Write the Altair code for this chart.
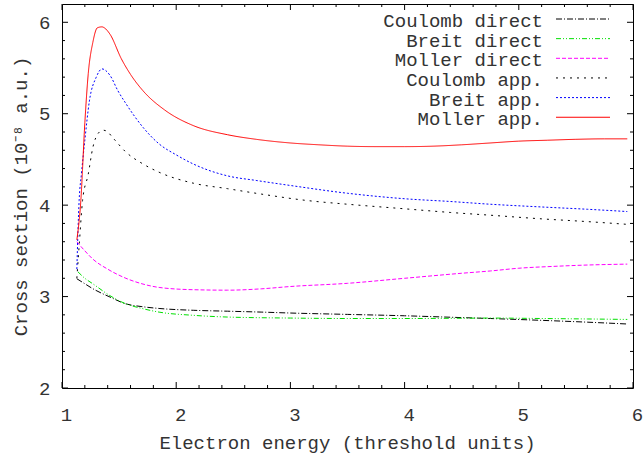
import altair as alt
import pandas as pd

# ---- series (energy in threshold units, cross section in 1e-8 a.u.) ----
series_names = ["Coulomb direct", "Breit direct", "Moller direct",
                "Coulomb app.", "Breit app.", "Moller app."]
series_colors = ["#000000", "#00e000", "#ff00ff", "#000000", "#0000ff", "#ff0000"]
series_dashes = [[6, 2, 1, 2], [5, 2, 1, 2, 1, 2], [4, 2], [2, 5], [2, 2], [1, 0]]

coulomb_direct_x = [1.13, 1.2, 1.27, 1.42, 1.56, 1.7, 1.85, 2.15, 2.45, 2.75, 3.0, 3.5, 4.0, 4.5, 4.75, 5.2, 5.6, 5.95]
coulomb_direct_y = [3.195, 3.14, 3.086, 2.995, 2.92, 2.89, 2.87, 2.85, 2.84, 2.83, 2.82, 2.805, 2.79, 2.77, 2.76, 2.74, 2.72, 2.70]

breit_direct_x = [1.14, 1.2, 1.27, 1.42, 1.56, 1.7, 1.85, 2.15, 2.45, 3.0, 3.5, 4.0, 4.5, 4.75, 5.2, 5.6, 5.95]
breit_direct_y = [3.27, 3.2, 3.14, 3.01, 2.92, 2.87, 2.83, 2.795, 2.776, 2.765, 2.76, 2.76, 2.763, 2.765, 2.76, 2.755, 2.75]

moller_direct_x = [1.13, 1.2, 1.27, 1.4, 1.56, 1.7, 1.85, 2.15, 2.45, 2.75, 3.0, 3.5, 4.0, 4.5, 4.75, 5.0, 5.3, 5.6, 5.95]
moller_direct_y = [3.60, 3.5, 3.41, 3.30, 3.20, 3.14, 3.10, 3.075, 3.07, 3.085, 3.11, 3.145, 3.20, 3.255, 3.28, 3.31, 3.33, 3.345, 3.355]

coulomb_app_x = [1.13, 1.15, 1.18, 1.23, 1.27, 1.32, 1.36, 1.39, 1.45, 1.56, 1.71, 1.85, 2.15, 2.45, 2.75, 3.15, 3.5, 4.0, 4.4, 4.75, 5.2, 5.6, 5.95]
coulomb_app_y = [3.2, 3.55, 4.05, 4.34, 4.63, 4.79, 4.82, 4.81, 4.73, 4.58, 4.45, 4.36, 4.24, 4.18, 4.12, 4.05, 4.01, 3.96, 3.92, 3.89, 3.85, 3.82, 3.79]

breit_app_x = [1.13, 1.15, 1.17, 1.2, 1.24, 1.3, 1.35, 1.42, 1.49, 1.56, 1.71, 1.85, 2.0, 2.15, 2.45, 2.7, 3.0, 3.5, 4.0, 4.4, 4.75, 5.2, 5.6, 5.95]
breit_app_y = [3.30, 4.05, 4.34, 4.71, 5.14, 5.40, 5.49, 5.42, 5.25, 5.11, 4.85, 4.67, 4.55, 4.45, 4.32, 4.27, 4.215, 4.13, 4.07, 4.04, 4.01, 3.98, 3.955, 3.93]

moller_app_x = [1.13, 1.165, 1.2, 1.23, 1.27, 1.31, 1.35, 1.37, 1.42, 1.52, 1.6, 1.71, 1.9, 2.15, 2.45, 2.7, 3.0, 3.25, 3.5, 3.75, 4.0, 4.25, 4.5, 4.75, 5.0, 5.25, 5.5, 5.75, 5.95]
moller_app_y = [3.62, 4.05, 4.9, 5.44, 5.78, 5.94, 5.95, 5.94, 5.87, 5.60, 5.43, 5.25, 5.04, 4.87, 4.77, 4.72, 4.68, 4.66, 4.645, 4.64, 4.64, 4.645, 4.66, 4.68, 4.70, 4.71, 4.72, 4.725, 4.725]

x_tick_values = [1, 2, 3, 4, 5, 6]
y_tick_values = [2, 3, 4, 5, 6]

series_points = [
    (coulomb_direct_x, coulomb_direct_y),
    (breit_direct_x, breit_direct_y),
    (moller_direct_x, moller_direct_y),
    (coulomb_app_x, coulomb_app_y),
    (breit_app_x, breit_app_y),
    (moller_app_x, moller_app_y),
]

rows = []
for order, (name, (xs, ys)) in enumerate(zip(series_names, series_points)):
    for e, s in zip(xs, ys):
        rows.append({"series": name, "order": order, "energy": e, "sigma": s})
curves = pd.DataFrame(rows)

# ---- layout ----
W, H = 571, 384
FONT = "Liberation Mono"
FS = 19
TEXT_COLOR = "#333333"

x_scale = alt.Scale(domain=[1, 6], nice=False, zero=False)
y_scale = alt.Scale(domain=[2, 6.2], nice=False, zero=False)

x_axis = alt.Axis(values=x_tick_values, format="d", ticks=False, domain=False, grid=False,
                  labelFont=FONT, labelFontSize=FS, labelColor=TEXT_COLOR,
                  labelPadding=17, labelOffset=4, labelFlush=False,
                  title="Electron energy (threshold units)",
                  titleFont=FONT, titleFontSize=FS, titleFontWeight="normal", titleColor=TEXT_COLOR,
                  titleX=285, titleY=60, titleAlign="center", titleBaseline="alphabetic")
y_axis = alt.Axis(values=y_tick_values, format="d", ticks=False, domain=False, grid=False,
                  labelFont=FONT, labelFontSize=FS, labelColor=TEXT_COLOR,
                  labelPadding=12, labelFlush=False,
                  title="Cross section (10⁻⁸ a.u.)",
                  titleFont=FONT, titleFontSize=FS, titleFontWeight="normal", titleColor=TEXT_COLOR,
                  titleX=-36, titleY=192, titleAngle=270, titleAlign="center",
                  titleBaseline="alphabetic")

lines = alt.Chart(curves).mark_line(strokeWidth=1, interpolate="monotone", clip=True).encode(
    x=alt.X("energy:Q", scale=x_scale, axis=x_axis),
    y=alt.Y("sigma:Q", scale=y_scale, axis=y_axis),
    color=alt.Color("series:N", scale=alt.Scale(domain=series_names, range=series_colors), legend=None),
    strokeDash=alt.StrokeDash("series:N", scale=alt.Scale(domain=series_names, range=series_dashes), legend=None),
    order=alt.Order("order:Q"),
)

# ---- inward tick marks on all four sides ----
x_minor = [round(1 + 0.2 * i, 1) for i in range(26) if i % 5 != 0]
y_minor = [round(2 + 0.2 * i, 1) for i in range(21) if i % 5 != 0]


def x_ticks(values, length):
    d = pd.DataFrame({"v": values})
    base = alt.Chart(d).mark_rule(color="black", strokeWidth=1)
    xs = alt.X("v:Q", scale=x_scale, axis=x_axis)
    return [
        base.encode(x=xs, y=alt.value(H), y2=alt.value(H - length)),
        base.encode(x=xs, y=alt.value(0), y2=alt.value(length)),
    ]


def y_ticks(values, length):
    d = pd.DataFrame({"v": values})
    base = alt.Chart(d).mark_rule(color="black", strokeWidth=1)
    ys = alt.Y("v:Q", scale=y_scale, axis=y_axis)
    return [
        base.encode(y=ys, x=alt.value(0), x2=alt.value(length)),
        base.encode(y=ys, x=alt.value(W), x2=alt.value(W - length)),
    ]


tick_layers = (x_ticks(x_tick_values, 6) + x_ticks(x_minor, 3)
               + y_ticks(y_tick_values, 6) + y_ticks(y_minor, 3))

# ---- key in the upper right: label, then line sample ----
key_layers = []
for i, (name, col, dash) in enumerate(zip(series_names, series_colors, series_dashes)):
    ky = 15 + 19.65 * i
    kd = pd.DataFrame({"series": [name]})
    key_layers.append(
        alt.Chart(kd).mark_text(align="right", baseline="alphabetic", dy=8,
                                font=FONT, fontSize=FS, color=TEXT_COLOR).encode(
            x=alt.value(481), y=alt.value(ky), text="series:N")
    )
    key_layers.append(
        alt.Chart(kd).mark_rule(color=col, strokeWidth=1, strokeDash=dash).encode(
            x=alt.value(494), x2=alt.value(548), y=alt.value(ky))
    )

chart = alt.layer(lines, *tick_layers, *key_layers).properties(
    width=W, height=H,
    autosize=alt.AutoSizeParams(type="none"),
    padding={"left": 62, "top": 4, "right": 10, "bottom": 66},
    background="white",
).configure_view(stroke="black", strokeWidth=1)

chart.save("out.html", embed_options={"renderer": "svg", "actions": False})
